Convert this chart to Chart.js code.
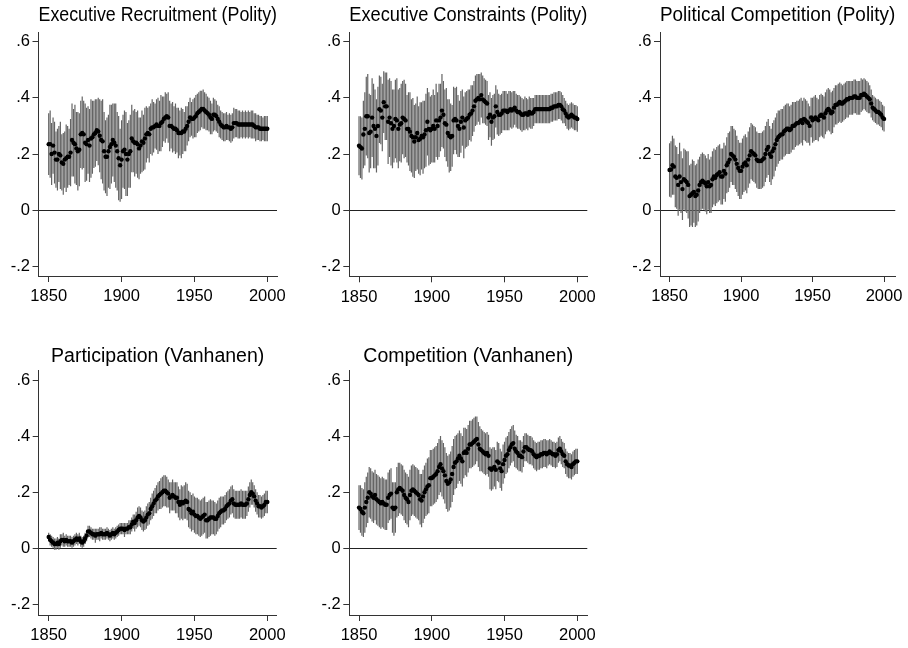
<!DOCTYPE html>
<html>
<head>
<meta charset="utf-8">
<script src="https://cdn.jsdelivr.net/npm/chart.js@4.4.1/dist/chart.umd.min.js"></script>
<style>
  html, body { margin: 0; padding: 0; background: #ffffff; }
  #wrap { position: relative; width: 908px; height: 648px; }
  #wrap canvas { position: absolute; left: 0; top: 0; }
</style>
</head>
<body>
<div id="wrap">
  <canvas id="c1" width="908" height="648"></canvas>
  <canvas id="c2" width="908" height="648"></canvas>
  <canvas id="c3" width="908" height="648"></canvas>
  <canvas id="c4" width="908" height="648"></canvas>
  <canvas id="c5" width="908" height="648"></canvas>
</div>
<script>
const FIRST_YEAR = 1850;
const years = Array.from({ length: 151 }, (_, i) => FIRST_YEAR + i);
const yTicks = [-0.2, 0, 0.2, 0.4, 0.6];
const xTicks = [1850, 1900, 1950, 2000];

// estimates por año (1850-2000) y semiancho del intervalo
const recruitPolity = [
  .235,.235,.20,.23,.205,.18,.18,.20,.195,.17,
  .165,.18,.185,.19,.19,.205,.25,.24,.235,.22,
  .21,.215,.27,.275,.27,.24,.235,.25,.23,.255,
  .26,.27,.275,.285,.28,.265,.25,.245,.21,.19,
  .19,.21,.225,.235,.25,.24,.23,.21,.185,.16,
  .18,.21,.215,.20,.18,.20,.21,.255,.245,.24,
  .24,.235,.22,.23,.245,.24,.255,.27,.275,.27,
  .29,.295,.295,.30,.305,.30,.30,.31,.315,.325,
  .33,.335,.33,.30,.30,.295,.29,.29,.285,.275,
  .275,.275,.28,.28,.29,.30,.315,.33,.325,.325,
  .33,.335,.345,.35,.355,.36,.36,.355,.35,.345,
  .34,.33,.325,.34,.34,.335,.325,.315,.305,.30,
  .295,.295,.30,.295,.295,.29,.295,.31,.31,.31,
  .305,.305,.305,.305,.305,.305,.305,.305,.305,.305,
  .305,.30,.295,.295,.295,.29,.29,.29,.29,.29,
  .29
];
const recruitPolityCI = [
  .11,.12,.11,.10,.11,.10,.11,.10,.12,.10,
  .11,.10,.12,.11,.10,.12,.13,.12,.14,.13,
  .14,.13,.12,.13,.12,.14,.13,.12,.13,.14,
  .13,.12,.12,.11,.12,.13,.14,.15,.14,.13,
  .14,.13,.15,.14,.13,.14,.15,.14,.15,.13,
  .14,.13,.14,.15,.13,.12,.13,.12,.11,.12,
  .11,.12,.11,.10,.11,.10,.11,.10,.09,.10,
  .09,.10,.09,.08,.09,.10,.09,.10,.09,.08,
  .09,.08,.09,.09,.08,.09,.08,.09,.08,.09,
  .08,.09,.08,.07,.08,.07,.07,.07,.06,.07,
  .07,.075,.07,.07,.07,.065,.07,.065,.065,.06,
  .06,.06,.055,.06,.055,.055,.05,.055,.05,.05,
  .05,.05,.05,.045,.05,.05,.05,.055,.05,.05,
  .05,.05,.045,.05,.045,.05,.045,.05,.045,.05,
  .05,.045,.05,.045,.045,.045,.045,.04,.045,.045,
  .045
];

const constraintsPolity = [
  .23,.225,.22,.27,.29,.335,.335,.275,.28,.33,
  .30,.29,.265,.30,.36,.355,.33,.385,.37,.37,
  .315,.33,.31,.29,.30,.325,.32,.29,.305,.31,
  .33,.325,.32,.29,.29,.28,.265,.26,.245,.26,
  .275,.25,.255,.265,.26,.27,.285,.315,.29,.285,
  .29,.30,.29,.32,.30,.32,.33,.355,.34,.31,
  .305,.275,.265,.26,.265,.32,.325,.32,.30,.29,
  .315,.33,.295,.32,.325,.33,.34,.345,.355,.37,
  .39,.395,.40,.395,.41,.395,.39,.385,.38,.33,
  .34,.315,.33,.335,.37,.35,.34,.34,.345,.355,
  .355,.355,.35,.355,.36,.355,.36,.365,.355,.35,
  .35,.345,.34,.34,.345,.345,.34,.35,.345,.345,
  .35,.36,.36,.36,.36,.36,.36,.36,.36,.36,
  .36,.36,.365,.365,.37,.37,.37,.375,.375,.37,
  .36,.355,.345,.335,.33,.335,.34,.335,.33,.33,
  .325
];
const constraintsPolityCI = [
  .105,.11,.11,.12,.13,.14,.15,.14,.13,.14,
  .15,.14,.13,.14,.12,.12,.12,.11,.12,.12,
  .15,.14,.15,.14,.13,.14,.15,.14,.13,.14,
  .13,.14,.13,.12,.13,.14,.13,.14,.13,.12,
  .13,.12,.13,.12,.13,.12,.13,.12,.13,.12,
  .12,.13,.12,.13,.12,.13,.12,.13,.12,.12,
  .13,.12,.13,.12,.11,.12,.11,.12,.11,.10,
  .11,.10,.11,.10,.10,.10,.09,.10,.09,.09,
  .09,.09,.085,.09,.08,.085,.08,.08,.08,.08,
  .08,.085,.08,.08,.075,.08,.075,.07,.07,.07,
  .07,.07,.065,.07,.065,.065,.065,.06,.06,.06,
  .06,.06,.06,.055,.06,.055,.055,.055,.055,.055,
  .05,.05,.05,.05,.05,.05,.05,.05,.05,.05,
  .05,.05,.05,.05,.05,.05,.05,.05,.05,.05,
  .05,.045,.045,.045,.045,.045,.045,.045,.045,.045,
  .045
];

const competitionPolity = [
  .143,.145,.16,.155,.12,.115,.09,.12,.10,.075,
  .11,.105,.10,.09,.05,.055,.06,.065,.05,.055,
  .07,.09,.10,.105,.10,.095,.085,.10,.085,.09,
  .11,.12,.115,.125,.13,.135,.12,.12,.14,.13,
  .16,.17,.18,.20,.195,.19,.18,.165,.15,.14,
  .14,.155,.165,.17,.16,.18,.195,.21,.205,.20,
  .195,.18,.175,.175,.175,.18,.185,.20,.215,.225,
  .20,.19,.21,.22,.235,.25,.26,.265,.27,.27,
  .28,.285,.29,.29,.285,.29,.30,.30,.305,.31,
  .31,.315,.32,.31,.325,.32,.315,.31,.30,.33,
  .32,.325,.33,.325,.32,.335,.34,.335,.33,.345,
  .355,.36,.355,.345,.35,.365,.375,.375,.38,.385,
  .38,.38,.385,.39,.395,.395,.40,.40,.40,.405,
  .405,.40,.40,.40,.41,.41,.415,.41,.405,.40,
  .395,.38,.365,.36,.355,.35,.35,.345,.34,.33,
  .325
];
const competitionPolityCI = [
  .095,.10,.105,.10,.11,.11,.11,.12,.11,.11,
  .11,.11,.11,.12,.11,.11,.12,.11,.11,.11,
  .11,.10,.10,.10,.10,.10,.10,.10,.095,.10,
  .10,.10,.10,.10,.10,.10,.10,.10,.10,.10,
  .10,.105,.10,.10,.105,.10,.105,.10,.10,.10,
  .10,.10,.10,.10,.10,.10,.10,.10,.10,.10,
  .10,.10,.10,.10,.10,.10,.10,.10,.10,.10,
  .10,.10,.10,.10,.095,.095,.095,.09,.09,.09,
  .09,.09,.09,.09,.085,.085,.085,.085,.08,.08,
  .08,.08,.08,.08,.075,.075,.075,.07,.07,.07,
  .08,.08,.08,.075,.075,.075,.075,.075,.075,.075,
  .075,.075,.075,.075,.075,.07,.07,.07,.07,.07,
  .07,.065,.065,.065,.065,.065,.06,.06,.06,.06,
  .06,.06,.06,.06,.06,.055,.055,.055,.055,.055,
  .05,.05,.045,.045,.045,.045,.045,.045,.045,.045,
  .045
];

const participationVanhanen = [
  .04,.03,.025,.02,.015,.015,.02,.015,.025,.03,
  .03,.025,.03,.025,.025,.025,.02,.025,.03,.035,
  .03,.035,.025,.02,.025,.035,.045,.06,.06,.055,
  .05,.05,.045,.05,.05,.05,.055,.05,.05,.05,
  .055,.05,.045,.05,.055,.05,.055,.06,.065,.07,
  .07,.07,.065,.07,.07,.075,.075,.085,.095,.09,
  .10,.11,.115,.11,.10,.095,.10,.11,.12,.125,
  .14,.15,.16,.17,.175,.185,.19,.195,.20,.205,
  .205,.20,.195,.18,.185,.19,.185,.18,.18,.165,
  .155,.165,.16,.165,.17,.165,.14,.135,.125,.13,
  .12,.115,.115,.11,.105,.11,.115,.12,.10,.10,
  .105,.11,.11,.11,.105,.105,.115,.125,.13,.135,
  .135,.14,.15,.155,.16,.17,.175,.16,.155,.155,
  .155,.155,.16,.155,.155,.155,.16,.175,.19,.20,
  .195,.185,.17,.16,.15,.15,.145,.15,.155,.165,
  .165
];
const participationVanhanenCI = [
  .015,.02,.02,.02,.02,.02,.02,.02,.025,.02,
  .025,.02,.02,.02,.02,.02,.02,.02,.02,.02,
  .02,.02,.02,.02,.02,.02,.02,.02,.02,.02,
  .02,.02,.025,.02,.02,.025,.02,.02,.02,.02,
  .02,.02,.02,.02,.02,.02,.02,.02,.02,.02,
  .02,.02,.025,.02,.02,.025,.025,.025,.025,.03,
  .03,.035,.035,.035,.035,.035,.035,.04,.04,.04,
  .04,.045,.045,.045,.05,.05,.05,.055,.055,.055,
  .055,.055,.05,.055,.05,.055,.05,.055,.055,.055,
  .055,.06,.06,.06,.065,.065,.065,.065,.065,.065,
  .065,.065,.065,.065,.065,.065,.065,.065,.065,.065,
  .065,.065,.06,.06,.06,.055,.055,.055,.055,.05,
  .05,.05,.05,.05,.05,.05,.05,.05,.05,.05,
  .05,.05,.05,.05,.05,.05,.045,.045,.045,.045,
  .04,.04,.04,.04,.04,.04,.04,.04,.04,.04,
  .04
];

const competitionVanhanen = [
  .145,.14,.13,.125,.145,.165,.18,.20,.195,.185,
  .18,.19,.175,.17,.165,.16,.165,.16,.155,.155,
  .18,.19,.195,.145,.14,.145,.20,.21,.215,.21,
  .205,.19,.18,.175,.165,.19,.205,.21,.205,.20,
  .195,.19,.175,.17,.185,.20,.21,.22,.225,.25,
  .25,.255,.26,.265,.275,.29,.30,.285,.275,.26,
  .24,.23,.235,.245,.265,.29,.305,.31,.32,.33,
  .32,.31,.34,.345,.34,.355,.37,.37,.375,.38,
  .385,.39,.37,.355,.35,.345,.34,.335,.34,.33,
  .285,.28,.285,.29,.28,.31,.305,.285,.275,.30,
  .315,.33,.335,.35,.36,.37,.375,.355,.345,.34,
  .33,.33,.325,.345,.36,.36,.355,.35,.35,.345,
  .335,.33,.325,.33,.33,.335,.335,.34,.34,.335,
  .34,.345,.34,.335,.335,.33,.335,.35,.355,.345,
  .335,.33,.31,.30,.295,.295,.29,.30,.305,.31,
  .31
];
const competitionVanhanenCI = [
  .08,.085,.085,.085,.09,.09,.09,.09,.09,.09,
  .09,.09,.09,.09,.09,.09,.09,.09,.09,.09,
  .09,.09,.09,.09,.095,.09,.09,.095,.09,.09,
  .09,.09,.09,.09,.09,.09,.09,.09,.09,.09,
  .09,.09,.09,.095,.095,.095,.095,.10,.10,.10,
  .10,.10,.10,.10,.10,.10,.10,.10,.10,.10,
  .10,.10,.10,.10,.10,.10,.095,.095,.09,.09,
  .09,.09,.09,.085,.085,.085,.085,.085,.085,.085,
  .085,.08,.08,.08,.075,.075,.075,.075,.075,.075,
  .075,.075,.075,.07,.07,.07,.07,.07,.07,.07,
  .065,.065,.065,.065,.065,.065,.065,.065,.06,.06,
  .055,.055,.055,.055,.05,.05,.05,.05,.05,.05,
  .05,.05,.05,.05,.05,.05,.05,.05,.05,.05,
  .045,.045,.045,.045,.045,.045,.045,.045,.045,.045,
  .045,.045,.045,.045,.045,.045,.045,.045,.045,.045,
  .045
];

const FONT_FAMILY = "'Liberation Sans', Arial, Helvetica, sans-serif";
const CANVAS_W = 908;
const CANVAS_H = 648;
const Y_AXIS_W = 38;
const X_AXIS_H = 34;
const TITLE_H = 32;
const TITLE_SIZE = 19.5;

// posición del área de gráfico de cada panel (px)
const panels = [
  { id: "c1", title: "Executive Recruitment (Polity)", values: recruitPolity, ci: recruitPolityCI,
    area: { left: 38.5, top: 32, right: 277, bottom: 276 }, titleTop: 4.3,
    xRange: [1843.0, 2006.66], yRange: [-0.2345, 0.6345] },
  { id: "c2", title: "Executive Constraints (Polity)", values: constraintsPolity, ci: constraintsPolityCI,
    area: { left: 349.3, top: 32, right: 587.3, bottom: 276.3 }, titleTop: 4.3,
    xRange: [1843.33, 2006.87], yRange: [-0.2345, 0.6345] },
  { id: "c3", title: "Political Competition (Polity)", values: competitionPolity, ci: competitionPolityCI,
    area: { left: 660, top: 32, right: 898.7, bottom: 276 }, titleTop: 4.3,
    xRange: [1843.3, 2007.86], yRange: [-0.2345, 0.6345] },
  { id: "c4", title: "Participation (Vanhanen)", values: participationVanhanen, ci: participationVanhanenCI,
    area: { left: 38.7, top: 370, right: 276.7, bottom: 615 }, titleTop: 6.6,
    xRange: [1843.14, 2006.45], yRange: [-0.238, 0.6357] },
  { id: "c5", title: "Competition (Vanhanen)", values: competitionVanhanen, ci: competitionVanhanenCI,
    area: { left: 349.3, top: 370, right: 587.3, bottom: 615 }, titleTop: 6.6,
    xRange: [1843.33, 2006.87], yRange: [-0.238, 0.6357] }
];

function formatoTick(v) {
  if (v === 0) return "0";
  return String(v).replace("0.", ".");
}

function renderPanel(p) {
  const ctx = document.getElementById(p.id).getContext("2d");

  const intervalos = years.map((yr, i) => ({ x: yr, y: [p.values[i] - p.ci[i], p.values[i] + p.ci[i]] }));
  const puntos = years.map((yr, i) => ({ x: yr, y: p.values[i] }));

  const titleLine = TITLE_SIZE * 1.2;

  return new Chart(ctx, {
    type: "bar",
    data: {
      datasets: [
        {
          type: "bar",
          data: intervalos,
          backgroundColor: "#646464",
          borderWidth: 0,
          barThickness: 1.2,
          inflateAmount: 0,
          grouped: false,
          order: 2,
        },
        {
          type: "line",
          data: puntos,
          showLine: false,
          pointRadius: 2.2,
          pointBackgroundColor: "#000000",
          pointBorderWidth: 0,
          order: 1,
        },
      ],
    },
    options: {
      responsive: false,
      animation: false,
      events: [],
      layout: {
        padding: {
          left: p.area.left - Y_AXIS_W,
          top: p.area.top - TITLE_H,
          right: CANVAS_W - p.area.right,
          bottom: CANVAS_H - p.area.bottom - X_AXIS_H,
        },
      },
      plugins: {
        legend: { display: false },
        tooltip: { enabled: false },
        title: {
          display: true,
          text: p.title,
          fullSize: false,
          color: "#000000",
          font: { family: FONT_FAMILY, size: TITLE_SIZE, weight: "normal" },
          padding: { top: p.titleTop, bottom: TITLE_H - p.titleTop - titleLine },
        },
      },
      scales: {
        x: {
          type: "linear",
          offset: false,
          min: p.xRange[0],
          max: p.xRange[1],
          afterBuildTicks: (scale) => { scale.ticks = xTicks.map(v => ({ value: v })); },
          afterFit: (scale) => { scale.height = X_AXIS_H; },
          border: { display: true, color: "#333333", width: 1 },
          grid: { offset: false, drawOnChartArea: false, drawTicks: true, tickLength: 6, tickColor: "#333333" },
          ticks: {
            color: "#000000",
            padding: 5,
            maxRotation: 0,
            autoSkip: false,
            font: { family: FONT_FAMILY, size: 16.5 },
            callback: (v) => String(v),
          },
        },
        y: {
          type: "linear",
          min: p.yRange[0],
          max: p.yRange[1],
          afterBuildTicks: (scale) => { scale.ticks = yTicks.map(v => ({ value: v })); },
          afterFit: (scale) => { scale.width = Y_AXIS_W; },
          border: { display: true, color: "#333333", width: 1 },
          grid: {
            color: (c) => (c.tick && c.tick.value === 0 ? "#222222" : "rgba(0,0,0,0)"),
            drawTicks: true,
            tickLength: 6,
            tickColor: "#333333",
          },
          ticks: {
            color: "#000000",
            padding: 2.5,
            autoSkip: false,
            font: { family: FONT_FAMILY, size: 16.5 },
            callback: (v) => formatoTick(v),
          },
        },
      },
    },
  });
}

panels.forEach(renderPanel);
</script>
</body>
</html>
